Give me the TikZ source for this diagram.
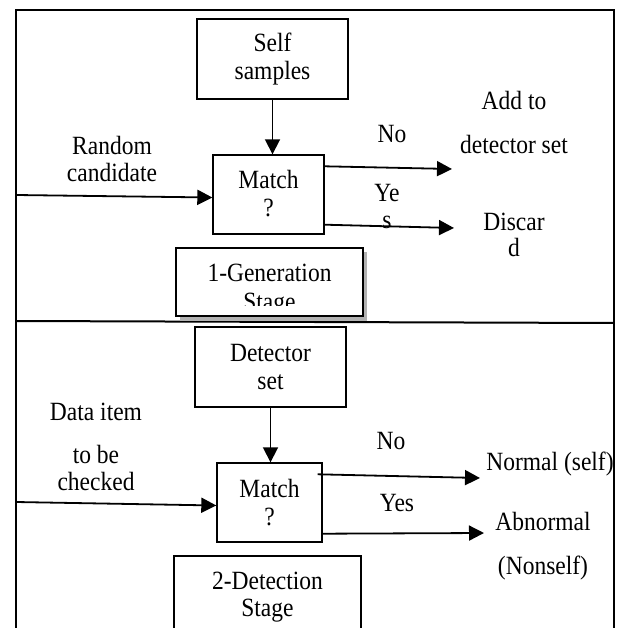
\documentclass[tikz,border=0pt]{standalone}
\usepackage{graphicx}
\usepackage{fontspec}
\setmainfont{Liberation Serif}
\usetikzlibrary{arrows.meta,calc}
\newcommand\vstr[1]{\scalebox{1}[1.12]{#1}}
\begin{document}
\begin{tikzpicture}[x=1pt,y=-1pt,
  t/.style={font=\fontsize{23.5}{28}\selectfont, inner sep=0pt, anchor=base},
  bx/.style={draw, line width=1.4pt, inner sep=0pt},
  arr/.style={line width=1.8pt, -{Triangle[length=15pt,width=15pt]}},
  frame/.style={line width=2pt}]
\useasboundingbox (0,0) rectangle (621,628);
\clip (0,0) rectangle (621,628);
% outer frame and divider
\draw[frame] (16,640) -- (16,10) -- (614,10) -- (614,640);
\draw[frame] (16,321) -- (614,323);

% ---------- Generation stage ----------
\node[bx, minimum width=151pt, minimum height=80pt] (self) at (272.5,59) {};
\node[t] (selfA) at (272.5,52) {\vstr{Self}};
\node[t] (selfB) at (272.5,80) {\vstr{samples}};

\node[bx, minimum width=111pt, minimum height=79pt] (match1) at (268.5,194.5) {};
\node[t] (m1A) at (268.5,189) {\vstr{Match}};
\node[t] (m1B) at (268.5,216) {\vstr{?}};

\fill[gray!60] (180,252) rectangle (367,321);
\node[bx, fill=white, minimum width=187pt, minimum height=68pt] (gen) at (269.5,282) {};
\node[t] (genA) at (269.5,281) {\vstr{1-Generation}};
\begin{scope}
  \clip (177,249) rectangle (362,305);
  \node[t] (genB) at (269.5,310) {\vstr{Stage}};
\end{scope}

\node[t] (rcA) at (112,155) {\vstr{Random}};
\node[t] (rcB) at (112,182) {\vstr{candidate}};
\node[t] (no1) at (392,143) {\vstr{No}};
\node[t] (addA) at (514,110) {\vstr{Add to}};
\node[t] (addB) at (514,154) {\vstr{detector set}};
\node[t] (yes1A) at (387,202) {\vstr{Ye}};
\node[t] (yes1B) at (387,229) {\vstr{s}};
\node[t] (disA) at (514,230) {\vstr{Discar}};
\node[t] (disB) at (514,256) {\vstr{d}};

\coordinate (in1) at (16,195);
\coordinate (no1end) at (452,169);
\coordinate (yes1end) at (454,228);
\draw[arr] (self.south) -- (self.south |- match1.north);
\draw[arr] (in1) -- ($(match1.west)+(0,3)$);
\draw[arr] ($(match1.north east)+(0,12)$) -- (no1end);
\draw[arr] ($(match1.south east)+(0,-10)$) -- (yes1end);

% ---------- Detection stage ----------
\node[bx, minimum width=151pt, minimum height=80pt] (det) at (270.5,367) {};
\node[t] (detA) at (270.5,361) {\vstr{Detector}};
\node[t] (detB) at (270.5,389) {\vstr{set}};

\node[bx, minimum width=105pt, minimum height=79pt] (match2) at (269.5,502.5) {};
\node[t] (m2A) at (269.5,497) {\vstr{Match}};
\node[t] (m2B) at (269.5,525) {\vstr{?}};

\node[bx, minimum width=187pt, minimum height=94pt] (detbox) at (267.5,603) {};
\node[t] (dbA) at (267.5,589) {\vstr{2-Detection}};
\node[t] (dbB) at (267.5,616) {\vstr{Stage}};

\node[t] (diA) at (96,420) {\vstr{Data item}};
\node[t] (diB) at (96,463) {\vstr{to be}};
\node[t] (diC) at (96,490) {\vstr{checked}};
\node[t] (no2) at (391,449) {\vstr{No}};
\node[t] (norm) at (550,470) {\vstr{Normal (self)}};
\node[t] (yes2) at (397,511) {\vstr{Yes}};
\node[t] (abA) at (543,530) {\vstr{Abnormal}};
\node[t] (abB) at (543,574) {\vstr{(Nonself)}};

\coordinate (in2) at (16,502);
\coordinate (no2end) at (480,478);
\coordinate (yes2end) at (484,533);
\draw[arr] (det.south) -- (det.south |- match2.north);
\draw[arr] (in2) -- ($(match2.west)+(0,3)$);
\draw[arr] ($(match2.north east)+(-5,12)$) -- (no2end);
\draw[arr] ($(match2.south east)+(0,-9)$) -- (yes2end);
\end{tikzpicture}
\end{document}
